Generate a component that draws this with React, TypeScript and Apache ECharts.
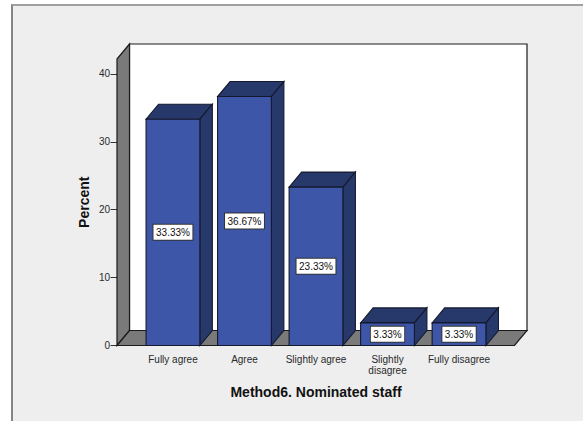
import React, { useEffect, useRef } from "react";
import * as echarts from "echarts";

const categories = ["Fully agree", "Agree", "Slightly agree", "Slightly\ndisagree", "Fully disagree"];
const percents = [33.33, 36.67, 23.33, 3.33, 3.33];
const yTicks = [0, 10, 20, 30, 40];

const DEPTH_X = 12.5;
const DEPTH_Y = 15;
const LABEL_FONT = "Liberation Sans, Arial, sans-serif";

// Back wall, side wall and floor of the 3-D plot box.
function renderBox(params: any) {
  const { x, y, width, height } = params.coordSys;
  const left = x - 20.2;
  const right = x + width + 19.7;
  const bottom = y + height;
  const edge = { stroke: "#1a1a1a", lineWidth: 1.2 };
  const poly = (points: number[][], fill: string) => ({
    type: "polygon",
    shape: { points },
    style: { fill, ...edge },
  });
  return {
    type: "group",
    children: [
      poly(
        [
          [left + DEPTH_X, y - DEPTH_Y],
          [right + DEPTH_X, y - DEPTH_Y],
          [right + DEPTH_X, bottom - DEPTH_Y],
          [left + DEPTH_X, bottom - DEPTH_Y],
        ],
        "#ffffff"
      ),
      poly(
        [
          [left, y],
          [left + DEPTH_X, y - DEPTH_Y],
          [left + DEPTH_X, bottom - DEPTH_Y],
          [left, bottom],
        ],
        "#7a7a7a"
      ),
      poly(
        [
          [left, bottom],
          [left + DEPTH_X, bottom - DEPTH_Y],
          [right + DEPTH_X, bottom - DEPTH_Y],
          [right, bottom],
        ],
        "#7a7a7a"
      ),
    ],
  };
}

// One extruded bar: front, top and side faces plus its value tag.
function renderBar(_params: any, api: any) {
  const value = api.value(1);
  const [cx, top] = api.coord([api.value(0), value]);
  const [, base] = api.coord([api.value(0), 0]);
  const half = (api.size([1, 0])[0] * 0.752) / 2;
  const l = cx - half;
  const r = cx + half;
  const edge = { stroke: "#14192e", lineWidth: 1.1 };
  const poly = (points: number[][], fill: string) => ({
    type: "polygon",
    shape: { points },
    style: { fill, ...edge },
  });
  return {
    type: "group",
    children: [
      poly(
        [
          [l, top],
          [r, top],
          [r + DEPTH_X, top - DEPTH_Y],
          [l + DEPTH_X, top - DEPTH_Y],
        ],
        "#27386b"
      ),
      poly(
        [
          [r, top],
          [r + DEPTH_X, top - DEPTH_Y],
          [r + DEPTH_X, base - DEPTH_Y],
          [r, base],
        ],
        "#27386b"
      ),
      poly(
        [
          [l, top],
          [r, top],
          [r, base],
          [l, base],
        ],
        "#3d56a8"
      ),
      {
        type: "text",
        x: cx,
        y: (top + base) / 2,
        z2: 10,
        style: {
          text: `${value.toFixed(2)}%`,
          fontFamily: LABEL_FONT,
          fontSize: 10,
          fill: "#111111",
          align: "center",
          verticalAlign: "middle",
          backgroundColor: "#ffffff",
          borderColor: "#333333",
          borderWidth: 1,
          padding: [3, 2.5, 2, 2.5],
        },
      },
    ],
  };
}

export default function App() {
  const ref = useRef<HTMLDivElement>(null);

  useEffect(() => {
    document.body.style.margin = "0";
    const chart = echarts.init(ref.current!, null, { renderer: "svg" });
    chart.setOption({
      animation: false,
      backgroundColor: "transparent",
      grid: { left: 137.2, right: 88.2, top: 59, bottom: 75.5 },
      xAxis: {
        type: "category",
        data: categories,
        name: "Method6. Nominated staff",
        nameLocation: "middle",
        nameGap: 39,
        nameMoveOverlap: false,
        nameTextStyle: { fontFamily: LABEL_FONT, fontSize: 14, fontWeight: "bold", color: "#111111" },
        axisLine: { show: false },
        axisTick: { alignWithLabel: true, length: 6.5, lineStyle: { color: "#333333", width: 1 } },
        axisLabel: {
          interval: 0,
          margin: 8.5,
          fontFamily: LABEL_FONT,
          fontSize: 10,
          lineHeight: 11,
          color: "#2a2a2a",
        },
      },
      yAxis: {
        type: "value",
        min: 0,
        max: 42.2,
        offset: 20.2,
        name: "Percent",
        nameLocation: "middle",
        nameGap: 26,
        nameMoveOverlap: false,
        nameTextStyle: { fontFamily: LABEL_FONT, fontSize: 14, fontWeight: "bold", color: "#111111" },
        splitLine: { show: false },
        axisLine: { show: false },
        axisTick: { show: true, length: 6.5, customValues: yTicks, lineStyle: { color: "#333333", width: 1 } },
        axisLabel: {
          customValues: yTicks,
          margin: 7,
          fontFamily: LABEL_FONT,
          fontSize: 10,
          color: "#2a2a2a",
        },
      },
      series: [
        { type: "custom", renderItem: renderBox, data: [[0, 0]], encode: { x: 0, y: 1 }, silent: true, z: 1 },
        {
          type: "custom",
          renderItem: renderBar,
          data: percents.map((p, i) => [i, p]),
          encode: { x: 0, y: 1 },
          silent: true,
          z: 2,
        },
      ],
    });
    return () => chart.dispose();
  }, []);

  return (
    <div style={{ position: "relative", width: 583, height: 421, background: "#ffffff", overflow: "hidden" }}>
      <div
        style={{
          position: "absolute",
          left: 11,
          top: 4,
          right: 0,
          bottom: 0,
          background: "#eeeeee",
          borderLeft: "2px solid #858585",
          borderTop: "2px solid #a0a0a0",
        }}
      />
      <div ref={ref} style={{ position: "absolute", left: 0, top: 0, width: 583, height: 421 }} />
    </div>
  );
}
